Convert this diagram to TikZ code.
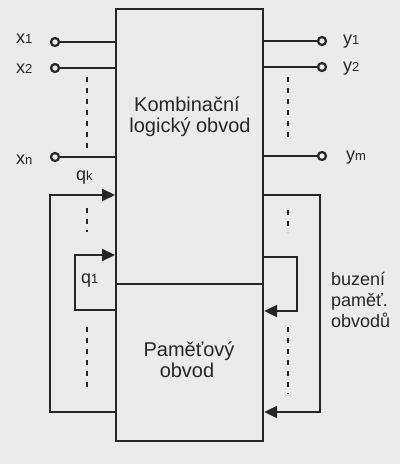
\documentclass[tikz,border=0pt]{standalone}
\usepackage{fontspec}
\setmainfont{Liberation Sans}
\usetikzlibrary{arrows.meta,calc}
\newcommand{\smalltxt}[1]{{\fontsize{13}{13}\selectfont #1}}
\begin{document}
\begin{tikzpicture}[x=1pt,y=-1pt,
  wire/.style={line width=2.2pt,draw=black!85},
  term/.style={circle,draw=black!85,line width=2.2pt,fill=black!8,inner sep=0pt,minimum size=8pt},
  vdots/.style={line width=2.2pt,draw=black!85,dash pattern=on 5pt off 6pt},
  arr/.style={-{Triangle[length=13pt,width=12pt]}},
  lbl/.style={font=\fontsize{18}{18}\selectfont,inner sep=0pt,text=black!85},
  big/.style={font=\fontsize{20}{21}\selectfont,inner sep=0pt,text=black!85,anchor=base}]
\fill[black!8] (0,0) rectangle (400,464);
\useasboundingbox (0,0) rectangle (400,464);
% boxes
\node[draw=black!85,line width=2.2pt,minimum width=147pt,minimum height=275pt,anchor=north west,inner sep=0pt] (kb) at (115,8) {};
\node[draw=black!85,line width=2.2pt,minimum width=147pt,minimum height=157pt,anchor=north west,inner sep=0pt] (pb) at (115,283) {};
\node[big] (kt1) at (187,111) {Kombinační};
\node[big] (kt2) at (190,132) {logický obvod};
\node[big] (pt1) at (189,356) {Paměťový};
\node[big] (pt2) at (187,377) {obvod};
% inputs
\node[term] (i1) at (55,42) {};
\node[term] (i2) at (55,68) {};
\node[term] (in) at (55,157) {};
\draw[wire] (i1) -- (i1 -| kb.west);
\draw[wire] (i2) -- (i2 -| kb.west);
\draw[wire] (in) -- (in -| kb.west);
\node[lbl,anchor=base west] (lx1) at (16,43) {x\smalltxt{1}};
\node[lbl,anchor=base west] (lx2) at (16,73) {x\smalltxt{2}};
\node[lbl,anchor=base west] (lxn) at (16,164) {x\smalltxt{n}};
\coordinate (dl1) at (87,77); \coordinate (dl2) at (87,150);
\draw[vdots] (dl1) -- (dl2);
% outputs
\node[term] (o1) at (322,41) {};
\node[term] (o2) at (322,67) {};
\node[term] (om) at (322,156) {};
\draw[wire] (o1 -| kb.east) -- (o1);
\draw[wire] (o2 -| kb.east) -- (o2);
\draw[wire] (om -| kb.east) -- (om);
\node[lbl,anchor=base west] (ly1) at (343,44) {y\smalltxt{1}};
\node[lbl,anchor=base west] (ly2) at (343,71) {y\smalltxt{2}};
\node[lbl,anchor=base west] (lym) at (346,160) {y\smalltxt{m}};
\coordinate (dr1) at (288,77); \coordinate (dr2) at (288,142);
\draw[vdots] (dr1) -- (dr2);
% left feedback loops
\coordinate (qa) at (50,195); \coordinate (qb) at (50,412);
\draw[wire,arr] (qb -| pb.west) -- (qb) -- (qa) -- (qa -| kb.west);
\coordinate (qc) at (75,255); \coordinate (qd) at (75,310);
\draw[wire,arr] (qd -| pb.west) -- (qd) -- (qc) -- (qc -| kb.west);
\node[lbl,anchor=base west] (lqk) at (76,180) {q\smalltxt{k}};
\node[lbl,anchor=base west] (lq1) at (81,283) {q\smalltxt{1}};
\coordinate (dq1) at (87,208); \coordinate (dq2) at (87,232);
\draw[vdots] (dq1) -- (dq2);
\coordinate (dq3) at (87,327); \coordinate (dq4) at (87,392);
\draw[vdots] (dq3) -- (dq4);
% right excitation loops
\coordinate (ra) at (320,195); \coordinate (rb) at (320,412);
\draw[wire,arr] (ra -| kb.east) -- (ra) -- (rb) -- (rb -| pb.east);
\coordinate (rc) at (297,257); \coordinate (rd) at (297,311);
\draw[wire,arr] (rc -| kb.east) -- (rc) -- (rd) -- (rd -| pb.east);
\coordinate (dr3) at (288,210); \coordinate (dr4) at (288,232);
\draw[vdots] (dr3) -- (dr4);
\coordinate (dr5) at (288,327); \coordinate (dr6) at (288,394);
\draw[vdots] (dr5) -- (dr6);
\node[lbl,anchor=base west] (bz1) at (331,285) {buzení};
\node[lbl,anchor=base west] (bz2) at (331,306) {paměť.};
\node[lbl,anchor=base west] (bz3) at (331,327) {obvodů};
\end{tikzpicture}
\end{document}
